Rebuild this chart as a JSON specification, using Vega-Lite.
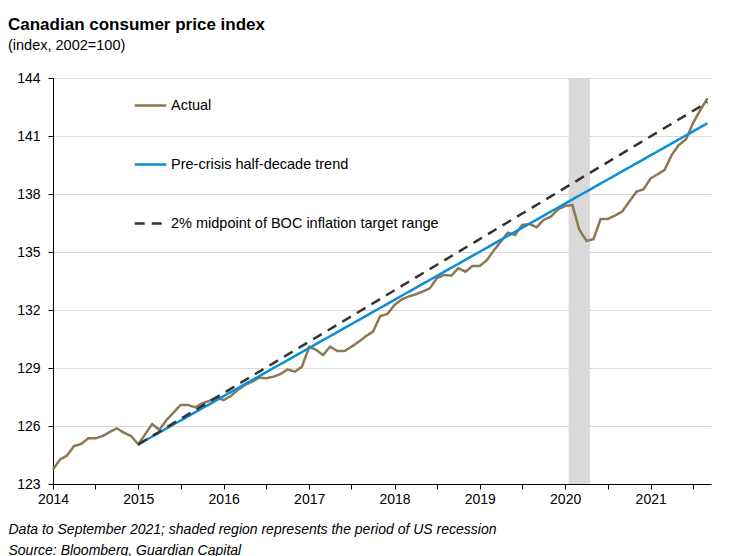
{
  "$schema": "https://vega.github.io/schema/vega-lite/v6.json",
  "width": 658,
  "height": 406,
  "autosize": "none",
  "padding": {"left": 53, "top": 78, "right": 28, "bottom": 72},
  "background": "white",
  "title": {
    "text": "Canadian consumer price index",
    "subtitle": "(index, 2002=100)",
    "anchor": "start",
    "frame": "group",
    "dx": -45,
    "offset": 18,
    "font": "Liberation Sans",
    "fontSize": 17,
    "fontWeight": "bold",
    "color": "black",
    "subtitleFont": "Liberation Sans",
    "subtitleFontSize": 14.5,
    "subtitleColor": "black",
    "subtitlePadding": 5
  },
  "datasets": {
    "recession": [{"start": "2020-01-16", "end": "2020-04-16"}],
    "cpi": [
      {"date": "2014-01-01", "series": "Actual", "value": 123.76},
      {"date": "2014-02-01", "series": "Actual", "value": 124.28},
      {"date": "2014-03-01", "series": "Actual", "value": 124.46},
      {"date": "2014-04-01", "series": "Actual", "value": 124.96},
      {"date": "2014-05-01", "series": "Actual", "value": 125.07},
      {"date": "2014-06-01", "series": "Actual", "value": 125.36},
      {"date": "2014-07-01", "series": "Actual", "value": 125.36},
      {"date": "2014-08-01", "series": "Actual", "value": 125.48},
      {"date": "2014-09-01", "series": "Actual", "value": 125.69},
      {"date": "2014-10-01", "series": "Actual", "value": 125.88},
      {"date": "2014-11-01", "series": "Actual", "value": 125.65},
      {"date": "2014-12-01", "series": "Actual", "value": 125.48},
      {"date": "2015-01-01", "series": "Actual", "value": 125.05},
      {"date": "2015-02-01", "series": "Actual", "value": 125.6},
      {"date": "2015-03-01", "series": "Actual", "value": 126.1},
      {"date": "2015-04-01", "series": "Actual", "value": 125.8},
      {"date": "2015-05-01", "series": "Actual", "value": 126.3},
      {"date": "2015-06-01", "series": "Actual", "value": 126.7},
      {"date": "2015-07-01", "series": "Actual", "value": 127.09},
      {"date": "2015-08-01", "series": "Actual", "value": 127.09},
      {"date": "2015-09-01", "series": "Actual", "value": 126.97},
      {"date": "2015-10-01", "series": "Actual", "value": 127.17},
      {"date": "2015-11-01", "series": "Actual", "value": 127.3},
      {"date": "2015-12-01", "series": "Actual", "value": 127.48},
      {"date": "2016-01-01", "series": "Actual", "value": 127.34},
      {"date": "2016-02-01", "series": "Actual", "value": 127.55},
      {"date": "2016-03-01", "series": "Actual", "value": 127.86},
      {"date": "2016-04-01", "series": "Actual", "value": 128.12},
      {"date": "2016-05-01", "series": "Actual", "value": 128.29},
      {"date": "2016-06-01", "series": "Actual", "value": 128.5},
      {"date": "2016-07-01", "series": "Actual", "value": 128.47},
      {"date": "2016-08-01", "series": "Actual", "value": 128.55},
      {"date": "2016-09-01", "series": "Actual", "value": 128.69},
      {"date": "2016-10-01", "series": "Actual", "value": 128.93},
      {"date": "2016-11-01", "series": "Actual", "value": 128.81},
      {"date": "2016-12-01", "series": "Actual", "value": 129.07},
      {"date": "2017-01-01", "series": "Actual", "value": 130.1},
      {"date": "2017-02-01", "series": "Actual", "value": 129.93},
      {"date": "2017-03-01", "series": "Actual", "value": 129.67},
      {"date": "2017-04-01", "series": "Actual", "value": 130.1},
      {"date": "2017-05-01", "series": "Actual", "value": 129.88},
      {"date": "2017-06-01", "series": "Actual", "value": 129.88},
      {"date": "2017-07-01", "series": "Actual", "value": 130.1},
      {"date": "2017-08-01", "series": "Actual", "value": 130.36},
      {"date": "2017-09-01", "series": "Actual", "value": 130.65},
      {"date": "2017-10-01", "series": "Actual", "value": 130.88},
      {"date": "2017-11-01", "series": "Actual", "value": 131.69},
      {"date": "2017-12-01", "series": "Actual", "value": 131.79},
      {"date": "2018-01-01", "series": "Actual", "value": 132.26},
      {"date": "2018-02-01", "series": "Actual", "value": 132.55},
      {"date": "2018-03-01", "series": "Actual", "value": 132.69},
      {"date": "2018-04-01", "series": "Actual", "value": 132.81},
      {"date": "2018-05-01", "series": "Actual", "value": 132.95},
      {"date": "2018-06-01", "series": "Actual", "value": 133.12},
      {"date": "2018-07-01", "series": "Actual", "value": 133.64},
      {"date": "2018-08-01", "series": "Actual", "value": 133.81},
      {"date": "2018-09-01", "series": "Actual", "value": 133.78},
      {"date": "2018-10-01", "series": "Actual", "value": 134.16},
      {"date": "2018-11-01", "series": "Actual", "value": 133.98},
      {"date": "2018-12-01", "series": "Actual", "value": 134.28},
      {"date": "2019-01-01", "series": "Actual", "value": 134.28},
      {"date": "2019-02-01", "series": "Actual", "value": 134.59},
      {"date": "2019-03-01", "series": "Actual", "value": 135.07},
      {"date": "2019-04-01", "series": "Actual", "value": 135.54},
      {"date": "2019-05-01", "series": "Actual", "value": 136.0},
      {"date": "2019-06-01", "series": "Actual", "value": 135.88},
      {"date": "2019-07-01", "series": "Actual", "value": 136.4},
      {"date": "2019-08-01", "series": "Actual", "value": 136.45},
      {"date": "2019-09-01", "series": "Actual", "value": 136.28},
      {"date": "2019-10-01", "series": "Actual", "value": 136.66},
      {"date": "2019-11-01", "series": "Actual", "value": 136.83},
      {"date": "2019-12-01", "series": "Actual", "value": 137.2},
      {"date": "2020-01-01", "series": "Actual", "value": 137.38},
      {"date": "2020-02-01", "series": "Actual", "value": 137.43},
      {"date": "2020-03-01", "series": "Actual", "value": 136.17},
      {"date": "2020-04-01", "series": "Actual", "value": 135.58},
      {"date": "2020-05-01", "series": "Actual", "value": 135.66},
      {"date": "2020-06-01", "series": "Actual", "value": 136.71},
      {"date": "2020-07-01", "series": "Actual", "value": 136.71},
      {"date": "2020-08-01", "series": "Actual", "value": 136.88},
      {"date": "2020-09-01", "series": "Actual", "value": 137.09},
      {"date": "2020-10-01", "series": "Actual", "value": 137.6},
      {"date": "2020-11-01", "series": "Actual", "value": 138.12},
      {"date": "2020-12-01", "series": "Actual", "value": 138.24},
      {"date": "2021-01-01", "series": "Actual", "value": 138.81},
      {"date": "2021-02-01", "series": "Actual", "value": 139.03},
      {"date": "2021-03-01", "series": "Actual", "value": 139.24},
      {"date": "2021-04-01", "series": "Actual", "value": 140.02},
      {"date": "2021-05-01", "series": "Actual", "value": 140.53},
      {"date": "2021-06-01", "series": "Actual", "value": 140.83},
      {"date": "2021-07-01", "series": "Actual", "value": 141.66},
      {"date": "2021-08-01", "series": "Actual", "value": 142.34},
      {"date": "2021-09-01", "series": "Actual", "value": 142.95},
      {"date": "2015-01-01", "series": "Pre-crisis half-decade trend", "value": 125.05},
      {"date": "2021-09-01", "series": "Pre-crisis half-decade trend", "value": 141.66},
      {"date": "2015-01-01", "series": "2% midpoint of BOC inflation target range", "value": 125.05},
      {"date": "2021-09-01", "series": "2% midpoint of BOC inflation target range", "value": 142.75}
    ]
  },
  "layer": [
    {
      "data": {"name": "recession"},
      "mark": {"type": "rect", "color": "#D9D9D9"},
      "encoding": {
        "x": {"field": "start", "type": "temporal"},
        "x2": {"field": "end"}
      }
    },
    {
      "data": {"name": "cpi"},
      "mark": {"type": "line", "strokeWidth": 2.5, "strokeCap": "butt"},
      "encoding": {
        "x": {
          "field": "date",
          "type": "temporal",
          "scale": {
            "type": "utc",
            "domain": [
              {"year": 2014, "month": 1, "date": 1, "utc": true},
              {"year": 2021, "month": 9, "date": 16, "utc": true}
            ]
          },
          "axis": {
            "title": ["Data to September 2021; shaded region represents the period of US recession", "Source: Bloomberg, Guardian Capital"],
            "titleFont": "Liberation Sans",
            "titleFontSize": 14,
            "titleFontStyle": "italic",
            "titleFontWeight": "normal",
            "titleColor": "black",
            "titleAnchor": "start",
            "titleAlign": "left",
            "titleBaseline": "top",
            "titleX": -45,
            "titleY": 38,
            "titleLineHeight": 21,
            "tickCount": {"interval": "month", "step": 6},
            "labelExpr": "utcmonth(datum.value) === 0 ? utcFormat(datum.value, '%Y') : ''",
            "labelFlush": false,
            "labelBound": false,
            "labelOverlap": false,
            "labelFont": "Liberation Sans",
            "labelFontSize": 14,
            "labelColor": "black",
            "labelPadding": 3,
            "tickColor": "black",
            "tickSize": 5,
            "domainColor": "black",
            "grid": false
          }
        },
        "y": {
          "field": "value",
          "type": "quantitative",
          "scale": {"domain": [123, 144], "nice": false, "zero": false},
          "axis": {
            "title": null,
            "values": [123, 126, 129, 132, 135, 138, 141, 144],
            "labelFont": "Liberation Sans",
            "labelFontSize": 14,
            "labelColor": "black",
            "labelPadding": 8,
            "tickColor": "black",
            "tickSize": 5,
            "domainColor": "black",
            "grid": true,
            "gridColor": "#D9D9D9",
            "gridWidth": 1
          }
        },
        "color": {
          "field": "series",
          "type": "nominal",
          "scale": {
            "domain": ["Actual", "Pre-crisis half-decade trend", "2% midpoint of BOC inflation target range"],
            "range": ["#8C7853", "#0A8FD6", "#333333"]
          },
          "legend": {
            "title": null,
            "orient": "none",
            "legendX": 80,
            "legendY": 10,
            "direction": "vertical",
            "padding": 0,
            "symbolType": "stroke",
            "symbolSize": 1000,
            "symbolStrokeWidth": 2.5,
            "labelFont": "Liberation Sans",
            "labelFontSize": 14.5,
            "labelColor": "black",
            "labelOffset": 3,
            "labelLimit": 500,
            "rowPadding": 35
          }
        },
        "strokeDash": {
          "field": "series",
          "type": "nominal",
          "scale": {
            "domain": ["Actual", "Pre-crisis half-decade trend", "2% midpoint of BOC inflation target range"],
            "range": [[1, 0], [1, 0], [10, 7]]
          },
          "legend": null
        }
      }
    }
  ],
  "config": {
    "view": {"stroke": null},
    "font": "Liberation Sans"
  }
}
